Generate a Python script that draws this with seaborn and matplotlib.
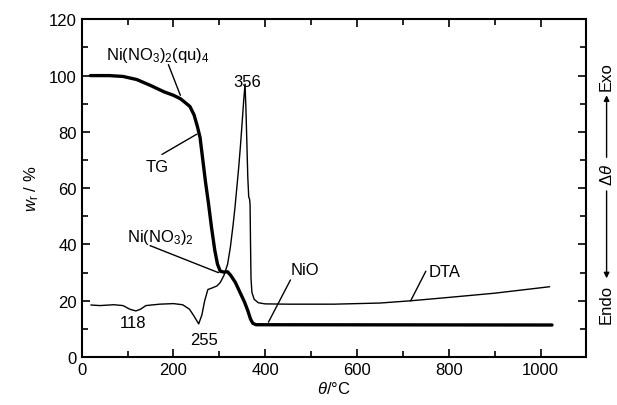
import numpy as np
import pandas as pd
import seaborn as sns
import matplotlib.pyplot as plt
from matplotlib.ticker import MultipleLocator

# TG curve (mass residue, %)
tg_temp = [19, 60, 90, 120, 150, 180, 200, 215, 225, 236, 245, 252, 258, 264, 270, 276,
           283, 290, 296, 302, 310, 318, 325, 335, 345, 355, 362, 368, 373, 380, 1025]
tg_mass = [100, 100, 99.7, 98.6, 96.5, 94.2, 93, 91.8, 90.5, 89, 86, 82, 78, 70, 62, 55,
           46, 38, 33, 30.5, 30.2, 30.3, 29, 26.5, 23, 19.5, 16.5, 13.5, 12, 11.5, 11.4]

# DTA curve (arbitrary units on the same scale)
dta_temp = [20, 40, 70, 90, 105, 118, 128, 140, 170, 200, 220, 235, 245, 255, 262,
            268, 275, 285, 295, 302, 310, 318, 324, 330, 334, 338, 342, 346, 350, 353,
            356, 358, 360, 362, 364, 366, 367, 368, 369, 371, 376, 385, 400, 450, 550,
            650, 717, 800, 900, 1020]
dta_sig = [18.5, 18.3, 18.6, 18.3, 17, 16.4, 17, 18.3, 18.8, 19, 18.6, 17, 14.5, 11.8, 15,
           20, 24, 24.6, 25.3, 26.5, 29, 33, 39, 47, 53, 60, 67, 75, 84, 91,
           97, 88, 76, 64, 57, 56, 54, 40, 28, 23, 20.5, 19.3, 18.9, 18.8, 18.8,
           19.2, 20, 21.2, 22.7, 25]

tg = pd.DataFrame({"T": tg_temp, "w": tg_mass})
dta = pd.DataFrame({"T": dta_temp, "s": dta_sig})

sns.set_theme(style="ticks")
plt.rcParams["font.family"] = ["Liberation Sans", "DejaVu Sans"]
plt.rcParams["mathtext.fontset"] = "custom"
plt.rcParams["mathtext.rm"] = "Liberation Sans"
plt.rcParams["mathtext.it"] = "Liberation Sans:italic"
plt.rcParams["text.color"] = "black"
plt.rcParams["axes.labelcolor"] = "black"
plt.rcParams["xtick.color"] = "black"
plt.rcParams["ytick.color"] = "black"
plt.rcParams["axes.edgecolor"] = "black"

fig = plt.figure(figsize=(6.17, 4.06), dpi=100)
ax = fig.add_axes([0.1324, 0.118, 0.818, 0.832])

sns.lineplot(data=dta, x="T", y="s", ax=ax, color="black", lw=1.0, sort=False)
sns.lineplot(data=tg, x="T", y="w", ax=ax, color="black", lw=2.4, sort=False)

ax.set_xlim(0, 1100)
ax.set_ylim(0, 120)
ax.xaxis.set_major_locator(MultipleLocator(200))
ax.xaxis.set_minor_locator(MultipleLocator(100))
ax.yaxis.set_major_locator(MultipleLocator(20))
ax.yaxis.set_minor_locator(MultipleLocator(10))
ax.tick_params(which="both", direction="in", top=True, right=True,
               labelright=False, labelsize=12, width=1.2)
ax.tick_params(which="major", length=6)
ax.tick_params(which="minor", length=4)
for sp in ax.spines.values():
    sp.set_linewidth(1.5)

ax.set_xlabel(r"$\theta$/°C", fontsize=12, labelpad=2)
ax.set_ylabel(r"$w_{\mathrm{r}}$ / %", fontsize=12, labelpad=6)

fs = 12
kw = dict(color="black", lw=1.0)
ax.text(167, 107.5, r"Ni(NO$_3$)$_2$(qu)$_4$", fontsize=fs, ha="center", va="center")
ax.plot([189, 215], [103.9, 93], **kw)
ax.text(164, 67.8, "TG", fontsize=fs, ha="center", va="center")
ax.plot([175, 251], [72, 79.2], **kw)
ax.text(171, 43, r"Ni(NO$_3$)$_2$", fontsize=fs, ha="center", va="center")
ax.plot([149, 298], [39.6, 30], **kw)
ax.text(360, 98, "356", fontsize=fs, ha="center", va="center")
ax.text(111, 12.4, "118", fontsize=fs, ha="center", va="center")
ax.text(267, 6.4, "255", fontsize=fs, ha="center", va="center")
ax.text(487, 31, "NiO", fontsize=fs, ha="center", va="center")
ax.plot([455, 407], [27.4, 12.4], **kw)
ax.text(790, 30.5, "DTA", fontsize=fs, ha="center", va="center")
ax.plot([750, 717], [30.5, 20], **kw)

# Exo / Endo indicator on the right
tr = ax.get_yaxis_transform()
xr = 1.04
ax.text(xr, 100, "Exo", transform=tr, rotation=90, ha="center", va="center",
        fontsize=fs, clip_on=False)
ax.text(xr, 65, r"$\Delta\theta$", transform=tr, rotation=90, ha="center", va="center",
        fontsize=fs, clip_on=False)
ax.text(xr, 19, "Endo", transform=tr, rotation=90, ha="center", va="center",
        fontsize=fs, clip_on=False)
ax.annotate("", xy=(xr, 94), xytext=(xr, 70), xycoords=tr, textcoords=tr,
            arrowprops=dict(arrowstyle="-|>", color="black", lw=1.0, mutation_scale=8),
            annotation_clip=False)
ax.annotate("", xy=(xr, 27), xytext=(xr, 60), xycoords=tr, textcoords=tr,
            arrowprops=dict(arrowstyle="-|>", color="black", lw=1.0, mutation_scale=8),
            annotation_clip=False)

fig.savefig("out.png", dpi=100)
